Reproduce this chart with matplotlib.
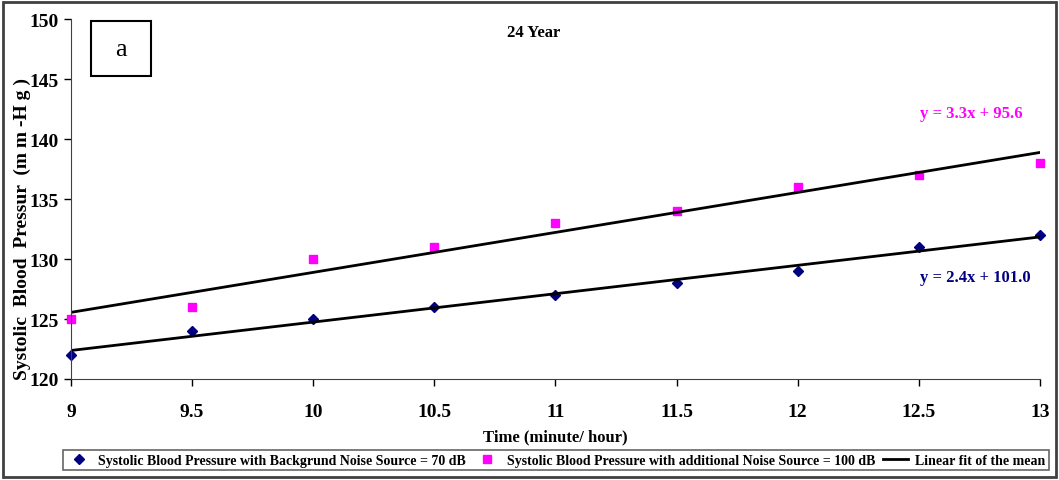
import matplotlib.pyplot as plt
from matplotlib.patches import Rectangle
import numpy as np

plt.rcParams['font.family'] = 'Liberation Serif'
plt.rcParams['font.weight'] = 'bold'

# data
time_h = [9, 9.5, 10, 10.5, 11, 11.5, 12, 12.5, 13]
sbp_70db = [122, 124, 125, 126, 127, 128, 129, 131, 132]
sbp_100db = [125, 126, 130, 131, 133, 134, 136, 137, 138]
eq_70db = 'y = 2.4x + 101.0'
eq_100db = 'y = 3.3x + 95.6'

x = np.array(time_h)
fit_70 = np.polyfit(x, sbp_70db, 1)
fit_100 = np.polyfit(x, sbp_100db, 1)

fig = plt.figure(figsize=(10.59, 4.81), dpi=100)
ax = fig.add_axes([0.067, 0.21, 0.915, 0.748])

ax.plot(x, sbp_70db, 'D', color='#000080', markersize=5.5, linestyle='none', clip_on=False,
        label='Systolic Blood Pressure with Backgrund Noise Source = 70 dB')
ax.plot(x, sbp_100db, 's', color='#FF00FF', markersize=5.5, linestyle='none', clip_on=False,
        label='Systolic Blood Pressure with additional Noise Source = 100 dB')
ax.plot(x, np.polyval(fit_100, x), color='black', lw=2,
        label='Linear fit of the mean')
ax.plot(x, np.polyval(fit_70, x), color='black', lw=2)

ax.set_xlim(9, 13)
ax.set_ylim(120, 150)
ax.set_xticks(time_h)
ax.set_xticklabels(['9', '9.5', '10', '10.5', '11', '11.5', '12', '12.5', '13'])
ax.set_yticks(range(120, 151, 5))
ax.tick_params(labelsize=14, length=5, width=1, colors='black')
ax.tick_params(axis='x', pad=12)
for s in ['top', 'right']:
    ax.spines[s].set_visible(False)
for s in ['left', 'bottom']:
    ax.spines[s].set_color('#404040')

ax.set_xlabel('Time (minute/ hour)', fontsize=12, fontweight='bold', labelpad=6)
ax.set_ylabel('Systolic  Blood  Pressur  (m m -H g )', fontsize=14, fontweight='bold')
ax.yaxis.set_label_coords(-0.041, 0.42)

ax.text(10.91, 148.9, '24 Year', fontsize=12, fontweight='bold', ha='center', va='center')
ax.text(12.93, 142.2, eq_100db, color='#FF00FF',
        fontsize=12, fontweight='bold', ha='right', va='center')
ax.text(12.96, 128.5, eq_70db, color='#000080',
        fontsize=12, fontweight='bold', ha='right', va='center')

# "a" box
ax.add_patch(Rectangle((0.021, 0.842), 0.062, 0.152, transform=ax.transAxes,
                       fill=False, edgecolor='black', lw=1.5, clip_on=False))
ax.text(0.052, 0.918, 'a', transform=ax.transAxes, fontsize=19, fontweight='normal',
        ha='center', va='center')

leg = fig.legend(loc='lower left', bbox_to_anchor=(0.053, 0.006, 0.944, 0.052),
                 mode='expand', ncol=3, fontsize=10, frameon=True, fancybox=False,
                 borderpad=0.25, handlelength=1.8, handletextpad=0.5, columnspacing=1.0,
                 markerscale=1.0)
leg.get_frame().set_edgecolor('#404040')
leg.get_frame().set_linewidth(1.2)

# outer frame
fig.patches.append(Rectangle((0.003, 0.006), 0.994, 0.988, transform=fig.transFigure,
                             fill=False, edgecolor='#404040', lw=2))

fig.savefig('out.png', dpi=100)
